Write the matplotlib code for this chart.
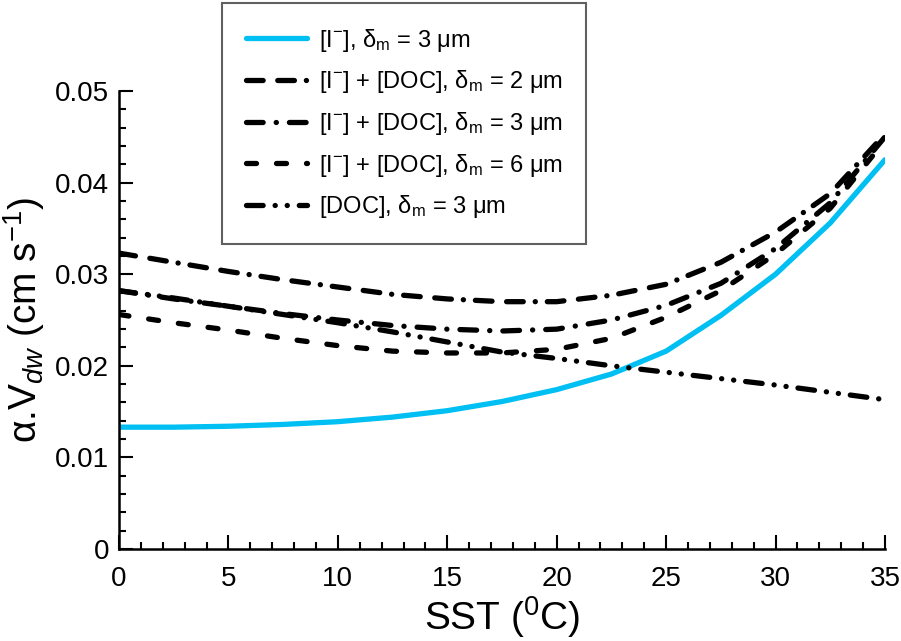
import matplotlib
matplotlib.use("Agg")
import matplotlib.pyplot as plt
from matplotlib.ticker import MultipleLocator

# SST (degC) and alpha.V_dw (cm s-1)
sst = [0, 2.5, 5, 7.5, 10, 12.5, 15, 17.5, 20, 22.5, 25, 27.5, 30, 32.5, 35]
iodide_3um = [0.0133, 0.0133, 0.0134, 0.0136, 0.0139, 0.0144, 0.0151, 0.0161,
              0.0174, 0.0191, 0.0216, 0.0255, 0.0300, 0.0356, 0.0425]
both_2um = [0.0323, 0.0313, 0.0303, 0.0294, 0.0286, 0.0278, 0.0273, 0.0270,
            0.0270, 0.0277, 0.0289, 0.0313, 0.0346, 0.0388, 0.0453]
both_3um = [0.0282, 0.0273, 0.0265, 0.0257, 0.0250, 0.0244, 0.0240, 0.0238,
            0.0240, 0.0250, 0.0266, 0.0290, 0.0328, 0.0378, 0.0450]
both_6um = [0.0256, 0.0247, 0.0239, 0.0230, 0.0222, 0.0216, 0.0214, 0.0214,
            0.0218, 0.0230, 0.0253, 0.0282, 0.0322, 0.0372, 0.0446]
doc_3um = [0.0282, 0.0274, 0.0265, 0.0256, 0.0247, 0.0237, 0.0226, 0.0215,
           0.0208, 0.0200, 0.0193, 0.0186, 0.0179, 0.0171, 0.0163]

labels = [
    r"[I$^{-}$], δ$_{\rm m}$ = 3 μm",
    r"[I$^{-}$] + [DOC], δ$_{\rm m}$ = 2 μm",
    r"[I$^{-}$] + [DOC], δ$_{\rm m}$ = 3 μm",
    r"[I$^{-}$] + [DOC], δ$_{\rm m}$ = 6 μm",
    r"[DOC], δ$_{\rm m}$ = 3 μm",
]

plt.rcParams["font.family"] = ["Liberation Sans", "DejaVu Sans"]
plt.rcParams["mathtext.fontset"] = "custom"
plt.rcParams["mathtext.rm"] = "Liberation Sans"
plt.rcParams["mathtext.it"] = "Liberation Sans:italic"
plt.rcParams["lines.scale_dashes"] = False

fig = plt.figure(figsize=(9.01, 6.41), dpi=100)
ax = fig.add_axes([119 / 901, 1 - 549 / 641, 766 / 901, 458 / 641])

blue = "#00BFF3"
lw = 3.8
ax.plot(sst, iodide_3um, color=blue, lw=lw, solid_capstyle="round", label=labels[0])
styles = [
    (0, (12, 10.5, 12, 8.6, 0.1, 8.6)),
    (0, (12, 9.4, 0.1, 9.4)),
    (0, (7.2, 14.4)),
    (0, (12, 8.6, 0.1, 8.6, 0.1, 8.6)),
]
for y, ls, lab in zip([both_2um, both_3um, both_6um, doc_3um], styles, labels[1:]):
    ax.plot(sst, y, color="black", lw=lw, linestyle=ls,
            dash_capstyle="round", label=lab)

ax.set_xlim(0, 35)
ax.set_ylim(0, 0.05)
ax.xaxis.set_major_locator(MultipleLocator(5))
ax.xaxis.set_minor_locator(MultipleLocator(1))
ax.yaxis.set_major_locator(MultipleLocator(0.01))
ax.yaxis.set_minor_locator(MultipleLocator(0.002))
ax.set_yticks([0, 0.01, 0.02, 0.03, 0.04, 0.05])
ax.set_yticklabels(["0", "0.01", "0.02", "0.03", "0.04", "0.05"])

for s in ["top", "right"]:
    ax.spines[s].set_visible(False)
for s in ["left", "bottom"]:
    ax.spines[s].set_linewidth(1.8)

ax.tick_params(which="both", direction="in", width=1.5)
ax.tick_params(which="major", length=10)
ax.tick_params(which="minor", length=5)
ax.tick_params(axis="y", labelsize=20, pad=7)
ax.tick_params(axis="x", pad=12)
for t in ax.get_xticklabels():
    t.set_fontfamily(["Liberation Sans Narrow", "Liberation Sans"])
    t.set_fontsize(20)

ax.set_xlabel(r"SST ($^{0}$C)", fontsize=28, labelpad=2)
ax.set_ylabel(r"α.V$_{dw}$ (cm s$^{-1}$)", fontsize=28, labelpad=6)

leg = ax.legend(loc="upper left", bbox_to_anchor=(222 / 901, 1 - 3 / 641),
                bbox_transform=fig.transFigure, borderaxespad=0, fontsize=17,
                handlelength=2.6, handletextpad=0.5, labelspacing=0.62,
                borderpad=1.0, fancybox=False, framealpha=1)
leg.get_frame().set_edgecolor("#606060")
leg.get_frame().set_linewidth(1.5)

fig.savefig("out.png", dpi=100)
